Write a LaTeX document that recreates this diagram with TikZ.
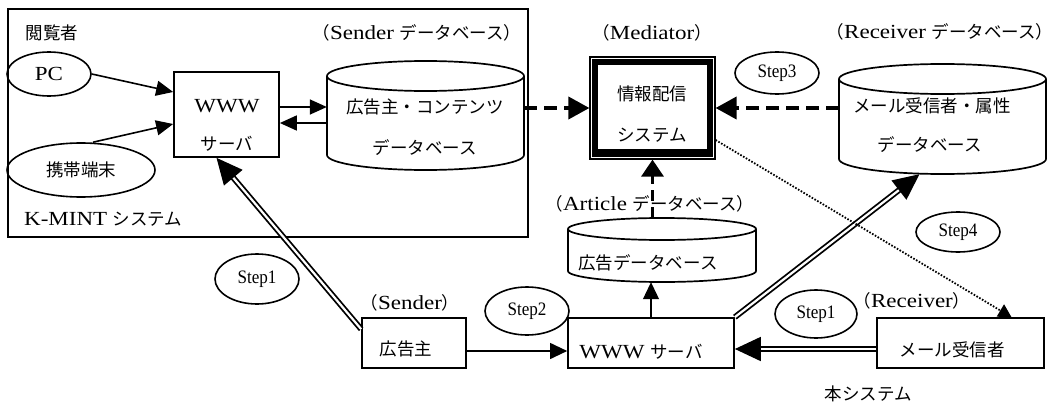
\documentclass[tikz,border=0pt]{standalone}
\usepackage{fontspec}
\setmainfont{Liberation Serif}[FakeStretch=1.15]
\newfontfamily\stepf{Liberation Serif}[FakeStretch=0.9]
\newfontfamily\jpf{Noto Sans CJK JP}
\newcommand\J[1]{{\jpf\fontsize{17.5}{20}\selectfont #1}}
\usetikzlibrary{arrows.meta,shapes.geometric}
\tikzset{
  base/.style={font=\fontsize{20}{24}\selectfont, inner sep=0pt},
  box/.style={base, draw, line width=1.7pt, rectangle},
  ell/.style={draw, ellipse, line width=1.6pt, inner sep=0pt, font=\stepf\fontsize{19}{21}\selectfont},
  lbl/.style={base},
  thinarrow/.style={line width=1.6pt, -{Triangle[length=17pt,width=15pt]}},
  finearrow/.style={line width=1.1pt, -{Triangle[length=17pt,width=16pt]}},
  dasharrow/.style={line width=3.8pt, dash pattern=on 13pt off 7pt, -{Triangle[length=21pt,width=22pt]}},
  dblarrow/.style={double, double distance=2.2pt, line width=1.8pt, -{Triangle[length=26pt,width=24pt]}},
  dotarrow/.style={line width=1.8pt, dash pattern=on 1.6pt off 1.6pt, -{Triangle[length=13pt,width=14pt]}},
}
\newcommand\cyl[6]{%
  \pgfmathsetmacro\cylcx{(#2+#4)/2}\pgfmathsetmacro\cylcy{(#3+#5)/2}%
  \pgfmathsetmacro\cylrx{(#4-#2)/2}\pgfmathsetmacro\cylw{#4-#2}\pgfmathsetmacro\cylh{#5-#3}%
  \node[inner sep=0pt, minimum width=\cylw pt, minimum height=\cylh pt] (#1) at (\cylcx,\cylcy) {};
  \draw[line width=1.7pt, fill=white] (#2,#3+#6) -- (#2,#5-#6)
     arc[start angle=180, end angle=360, x radius=\cylrx pt, y radius=#6 pt] -- (#4,#3+#6);
  \draw[line width=1.7pt] (\cylcx,#3+#6) ellipse[x radius=\cylrx pt, y radius=#6 pt];
}
\begin{document}
\begin{tikzpicture}[x=1pt,y=-1pt]
\useasboundingbox (0,0) rectangle (1054,404);
% K-MINT frame
\node[draw, line width=1.7pt, minimum width=520pt, minimum height=228pt, inner sep=0pt] (kmint) at (268,123) {};
\node[lbl, anchor=west] (kmintlbl) at (24,219) {K-MINT \J{システム}};
\node[lbl] (viewer) at (52,33) {\J{閲覧者}};
\node[ell, minimum width=84pt, minimum height=44pt, font=\fontsize{20}{24}\selectfont] (pc) at (49,74) {PC};
\node[ell, minimum width=148pt, minimum height=54pt] (kt) at (81,170) {\J{携帯端末}};
\node[box, minimum width=105pt, minimum height=85pt] (www) at (226.5,114.5) {};
\node[lbl] (wwwa) at (227,106) {WWW};
\node[lbl] (wwwb) at (227,144) {\J{サーバ}};
% Sender DB
\node[lbl] (sdblbl) at (417,33) {\J{（}Sender \J{データベース）}};
\cyl{sdb}{327}{61}{524}{170}{15}
\node[lbl] (sdba) at (425,107) {\J{広告主・コンテンツ}};
\node[lbl] (sdbb) at (425,148) {\J{データベース}};
% Mediator
\node[lbl] (medlbl) at (652,33) {\J{（}Mediator\J{）}};
\node[box, line width=1.2pt, minimum width=125pt, minimum height=102pt] (med) at (652.5,108) {};
\draw[line width=6pt] ([shift={(5.5pt,-5.5pt)}]med.north west) rectangle ([shift={(-5.5pt,5.5pt)}]med.south east);
\fill ([shift={(2.5pt,8pt)}]med.south west) rectangle ([shift={(-2.5pt,11pt)}]med.south east);
\node[lbl] (meda) at (652,94) {\J{情報配信}};
\node[lbl] (medb) at (652,135) {\J{システム}};
% Receiver DB
\node[lbl] (rdblbl) at (940,32) {\J{（}Receiver \J{データベース）}};
\cyl{rdb}{839}{64}{1046}{174}{15}
\node[lbl] (rdba) at (932,106) {\J{メール受信者・属性}};
\node[lbl] (rdbb) at (930,145) {\J{データベース}};
\node[ell, minimum width=84pt, minimum height=42pt] (s3) at (777,73) {Step3};
% Article DB
\node[lbl] (adblbl) at (650,204) {\J{（}Article \J{データベース）}};
\cyl{adb}{568}{218}{756}{282}{11}
\node[lbl] (adba) at (648,263) {\J{広告データベース}};
% bottom row
\node[lbl] (sndlbl) at (410,303) {\J{（}Sender\J{）}};
\node[box, minimum width=104pt, minimum height=50pt] (kk) at (414,343) {};
\node[lbl] (kkt) at (406,349) {\J{広告主}};
\node[box, minimum width=166pt, minimum height=50pt] (ws) at (651,343) {};
\node[lbl] (wst) at (641,352) {WWW \J{サーバ}};
\node[lbl] (rcvlbl) at (912,301) {\J{（}Receiver\J{）}};
\node[box, minimum width=167pt, minimum height=50pt] (rb) at (960.5,343) {};
\node[lbl] (rbt) at (952,350) {\J{メール受信者}};
\node[lbl] (hon) at (868,394) {\J{本システム}};
\node[ell, minimum width=84pt, minimum height=50pt] (s1a) at (257,279) {Step1};
\node[ell, minimum width=84pt, minimum height=48pt] (s2) at (527,311) {Step2};
\node[ell, minimum width=82pt, minimum height=48pt] (s1b) at (816,314) {Step1};
\node[ell, minimum width=84pt, minimum height=40pt] (s4) at (958,232) {Step4};
% connectors
\draw[thinarrow] (pc.east) -- ([yshift=22.5pt]www.west);
\draw[thinarrow] ([xshift=12pt]kt.north) -- ([yshift=-9.5pt]www.west);
\draw[thinarrow] ([yshift=7.5pt]www.east) -- ([yshift=7.5pt]www.east -| sdb.west);
\draw[thinarrow] ([yshift=-8.5pt]www.east -| sdb.west) -- ([yshift=-8.5pt]www.east);
\draw[dasharrow] (sdb.east |- med.west) -- (med.west);
\draw[dasharrow] (rdb.west |- med.east) -- (med.east);
\draw[dasharrow, line width=3.2pt, dash pattern=on 11pt off 6pt, -{Triangle[length=17pt,width=22pt]}] (med.south |- adb.north) -- (med.south);
\draw[finearrow] (ws.north) -- (ws.north |- adb.south);
\draw[finearrow] (kk.east |- 0,351) -- (ws.west |- 0,351);
\draw[dblarrow] ([yshift=-12pt]kk.north west) -- ([xshift=-10pt]www.south);
\draw[dblarrow] (ws.north east) -- ([xshift=-23pt]rdb.south);
\draw[dblarrow] ([yshift=-6pt]rb.west) -- ([yshift=-6pt]ws.east);
\draw[dotarrow] ([yshift=-32pt]med.east) -- ([xshift=51pt]rb.north);
\end{tikzpicture}
\end{document}
